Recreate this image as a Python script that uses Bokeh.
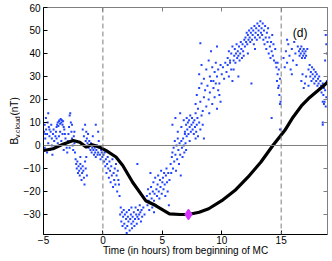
from bokeh.plotting import figure
from bokeh.layouts import row
from bokeh.models import Span, Label, LinearAxis, FixedTicker, Range1d
from bokeh.embed import file_html
from bokeh.resources import INLINE

FONT = "Liberation Sans"

# ---- data ----
x_ticks = [-5, 0, 5, 10, 15]
y_ticks = [-30, -20, -10, 0, 10, 20, 30, 40, 50, 60]
mc_bounds = [0, 15]          # dashed verticals (MC start / end)
zero_level = 0

# measured B_y (blue dots): hours, nT
obs_t = [
    -4.95, -4.9, -4.85, -4.8, -4.78, -4.7, -4.65, -4.6, -4.55, -4.5, -4.45, -4.4, -4.35, -4.3, -4.25, -4.2, -4.15, -4.1, -4.05, -4.0, -4.9, -4.7, -4.6, -4.3, -4.85, -4.5,
    -3.95, -3.9, -3.85, -3.8, -3.75, -3.7, -3.65, -3.6, -3.55, -3.5, -3.45, -3.4, -3.35, -3.3, -3.25, -3.2, -3.15, -3.1, -3.05, -3.9, -3.7, -3.5, -3.3, -3.6, -3.4, -3.0, -3.8,
    -2.95, -2.9, -2.85, -2.8, -2.75, -2.7, -2.65, -2.6, -2.55, -2.5, -2.45, -2.4, -2.35, -2.3, -2.25, -2.2, -2.15, -2.1, -2.05, -2.0, -2.8, -2.6, -2.4, -2.7,
    -1.95, -1.9, -1.85, -1.8, -1.75, -1.7, -1.65, -1.6, -1.55, -1.5, -1.45, -1.4, -1.7, -1.6, -1.5, -1.45, -1.4, -1.35, -1.3, -1.25, -1.2, -1.15, -1.1, -1.05, -1.0, -1.9, -1.35,
    -0.95, -0.9, -0.85, -0.8, -0.75, -0.7, -0.65, -0.6, -0.55, -0.5, -0.45, -0.4, -0.35, -0.3, -0.25, -0.2, -0.15, -0.1, -0.05, -0.6, -0.4,
    0.05, 0.1, 0.15, 0.2, 0.25, 0.3, 0.35, 0.4, 0.45, 0.5, 0.55, 0.6, 0.65, 0.7, 0.75, 0.8, 0.85, 0.9, 0.95, 1.0, 1.05, 1.1, 1.15, 1.2, 1.25, 1.3, 1.35, 1.4,
    1.45, 1.5, 1.55, 1.6, 1.65, 1.7, 1.75, 1.8, 1.85, 1.9, 1.95, 2.0, 2.05, 2.1, 2.15, 2.2, 2.25, 2.3, 2.35, 2.4, 2.45, 2.5, 2.55, 2.6, 2.65, 2.7, 2.75, 2.8, 2.85, 2.9, 2.95, 3.0, 3.05, 3.1, 3.15, 3.2, 3.25, 3.3, 3.4, 3.5, 2.9, 2.0, 2.4,
    3.7, 3.75, 3.8, 3.85, 3.9, 3.95, 4.0, 4.05, 4.1, 4.15, 4.2, 4.25, 4.3, 4.35, 4.4, 4.45, 4.5, 4.55, 4.6, 4.65, 4.7, 4.75, 4.8, 4.85, 4.9, 4.95, 5.0, 5.05, 5.1, 5.15, 5.2, 5.25, 5.3, 5.35, 5.4, 5.45, 5.5, 5.55, 5.6, 4.3, 4.0,
    5.7, 5.75, 5.8, 5.85, 5.9, 5.95, 6.0, 6.05, 6.1, 6.15, 6.2, 6.25, 6.3, 6.35, 6.4, 6.45, 6.5, 6.55, 6.6, 6.65, 6.7, 6.75, 6.8, 6.85, 6.9, 6.95, 7.0, 7.05,
    5.85, 6.1, 6.3, 6.5, 6.6, 6.8, 6.9, 7.0, 7.05, 7.1, 7.15, 7.2, 7.25, 7.3, 7.35, 7.4, 7.45, 7.5, 7.55, 7.6, 7.65, 7.7, 7.75, 7.8, 7.85, 7.9, 7.95, 8.0, 8.1, 8.2, 8.3, 8.4, 8.5, 7.3, 7.8,
    7.8, 7.9, 8.0, 8.1, 8.2, 8.3, 8.4, 8.5, 8.6, 8.7, 8.8, 8.9, 9.0, 9.1, 9.2, 9.3, 9.4, 9.5, 9.6, 9.7, 9.8, 9.9, 8.95,
    8.1, 8.3, 8.5, 8.7, 8.9, 9.0, 9.2, 9.3, 9.4, 9.5, 9.6, 9.7, 9.8, 9.9, 10.0, 10.1, 10.2, 10.3, 10.4, 10.5, 10.6, 10.7, 10.8, 9.1, 9.6, 8.2,
    10.5, 10.6, 10.7, 10.8, 10.9, 11.0, 11.05, 11.1, 11.15, 11.2, 11.25, 11.3, 11.35, 11.4, 11.45, 11.5, 11.55, 11.6, 11.65, 11.7, 11.75, 11.8, 11.85, 11.9, 11.95, 11.0, 11.4, 10.9,
    12.0, 12.05, 12.1, 12.15, 12.2, 12.25, 12.3, 12.35, 12.4, 12.45, 12.5, 12.55, 12.6, 12.65, 12.7, 12.75, 12.8, 12.85, 12.9, 12.95, 13.0, 13.05, 13.1, 13.15, 13.2, 13.25, 13.3, 12.5, 12.2, 12.8,
    13.35, 13.4, 13.45, 13.5, 13.55, 13.6, 13.65, 13.7, 13.75, 13.8, 13.85, 13.9, 13.95, 14.0, 14.05, 14.1, 14.15, 14.2, 14.25, 14.3, 14.35, 14.4, 14.5, 14.55,
    14.6, 14.65, 14.7, 14.75, 14.8, 14.85, 14.9, 14.95, 14.7, 14.8, 14.9, 14.2, 14.9,
    15.2, 15.3, 15.4, 15.5, 15.6, 15.7, 15.8, 15.9, 16.0, 16.1, 16.2, 16.3, 16.4, 15.5, 15.9,
    16.5, 16.55, 16.6, 16.65, 16.7, 16.75, 16.8, 16.85, 16.9, 16.95, 17.0, 17.05, 17.1, 17.2, 16.7, 16.8, 16.9, 17.0, 17.1, 17.3,
    17.3, 17.4, 17.45, 17.5, 17.55, 17.6, 17.65, 17.7, 17.75, 17.8, 17.85, 17.9, 17.95, 18.0, 18.05, 18.1, 18.15, 18.2, 18.25, 18.3, 18.35, 18.4,
    18.5, 18.55, 18.6, 18.65, 18.7, 18.75, 18.8, 18.85, 18.75, 18.8, 18.85, 18.7, 18.6, 18.5, 18.5, 18.5,
]
obs_b = [
    6, 9, 3, 12, 7, 5, 10, 1, 8, 4, -2, 6, 9, 3, -4, 5, 7, 2, -1, 4, -1, -3, 14, 0, 5, 7,
    6, 8, 9, 10, 8.5, 10.5, 11, 9.5, 11.5, 10, 11, 9, 10.5, 8, 7, 5, 3, 1, -1, 3, 4, 2, -2, 6, 5, -3, 1,
    2, 5, 8, 13, 14, 10, 6, 3, 0, -2, 4, 1, -3, -6, -8, -10, -7, -12, -9, -11, -1, 9, 6, 2,
    -13, -8, -10, -15, -12, -9, -11, -14, -17, -7, -10, -5, 7, 4, 9, 2, 6, 3, 1, 5, -1, 2, 0, -2, 1, -5, -13,
    -3, -1, 4, -2, -4, -1, -3, -5, -2, 0, -4, -3, 2, -1, -4, -6, -2, -3, -5, 9, 6,
    -4, -7, -3, -9, -6, -12, -8, -5, -10, -14, -7, -11, -16, -9, -13, -6, -18, -12, -15, -10, -17, -8, -13, -20, -11, -15, -17, -22,
    -30, -27, -33, -29, -35, -31, -28, -34, -30, -36, -32, -29, -35, -31, -33, -28, -37, -32, -30, -34, -36, -31, -33, -29, -35, -32, -27, -30, -34, -31, -28, -32, -30, -26, -29, -33, -28, -31, -27, -30, -8, -38, -27,
    -22, -26, -19, -24, -28, -21, -25, -18, -23, -27, -20, -16, -24, -21, -14, -26, -19, -22, -17, -13, -20, -23, -15, -18, -11, -21, -16, -14, -19, -12, -17, -22, -13, -10, -16, -20, -12, -26, -15, -29, -12,
    -8, -12, -5, -3, -10, -1, -7, 2, -4, -11, 0, -6, 3, -2, -8, 1, -4, -13, 2, -1, -5, 3, 0, -3, 5, 1, -2, 4,
    9, 12, 6, 14, 8, 11, 6, 9, 12, 7, 10, 5, 11, 8, 13, 6, 9, 12, 7, 10, 5, 11, 8, 14, 6, 9, 12, 4, 10, 7, 13, 9, 3, 2, 3,
    18, 22, 16, 25, 19, 27, 15, 21, 24, 17, 26, 20, 23, 28, 18, 25, 21, 27, 16, 24, 22, 19, 14,
    31, 35, 29, 33, 37, 30, 34, 28, 32, 36, 30, 33, 27, 35, 31, 34, 29, 36, 32, 35, 30, 37, 33, 41, 43, 44.5,
    38, 41, 36, 40, 43, 37, 39, 42, 36, 40, 44, 38, 41, 39, 43, 37, 40, 45, 42, 38, 44, 41, 39, 46, 43, 33, 30, 28,
    47, 45, 49, 44, 48, 46, 50, 47, 45, 49, 51, 46, 48, 50, 44, 52, 47, 49, 51, 46, 53, 48, 50, 52, 47, 54, 49, 27, 40, 42,
    51, 48, 53, 46, 50, 44, 52, 47, 42, 49, 45, 51, 40, 47, 43, 38, 45, 41, 48, 39, 44, 37, 42, 36,
    34, 28, 31, 25, 33, 22, 29, 19, 36, 26, 18, 12, 7,
    38, 34, 41, 36, 44, 39, 33, 42, 37, 45, 40, 35, 43, 46, 31,
    41, 39, 42, 40, 43, 38, 41, 39, 42, 40, 38, 41, 39, 42, 28, 31, 25, 27, 30, 26,
    33, 35, 30, 32, 28, 34, 31, 29, 33, 27, 30, 32, 28, 31, 26, 29, 27, 30, 25, 28, 26, 23,
    27, 22, 25, 19, 24, 17, 21, 28, 48, 44, 40, 37, 18, 10, 9, 19,
]

# model B_y (black curve)
model_t = [-5, -4.2, -3.3, -2.5, -1.95, -1.4, -0.97, -0.28, 0.28, 1.1, 1.67, 2.5, 3.6, 4.4,
           5.6, 6.5, 7.2, 8.1, 8.9, 10.0, 11.1, 12.2, 13.3, 14.3, 15.3, 16.0, 16.7, 17.3, 17.8, 18.4, 18.9]
model_b = [-2.2, -1.4, 0.7, 2.2, 1.4, -0.7, 0.4, -0.7, -2.2, -5, -8.7, -16, -24, -26,
           -29.7, -30, -30, -29, -27.5, -24, -19.6, -13.8, -7.2, 0, 6.5, 12.3, 17.2, 20.4, 22.6, 25.2, 27.5]

# minimum of the model
min_t = [7.2]
min_b = [-30]

panel_tag = "(d)"
tag_pos = (16.6, 49)

# y-axis title pieces: text, font size, anchor x (px in strip), anchor y (data)
ylab_parts = [("B", "10px", 14, 0.4), ("y,cloud", "7px", 17, 3.3), (" (nT)", "10px", 14, 13.0)]

yr = Range1d(-38.7, 60)
LAB_W = 20

# ---- narrow strip holding the rotated y-axis title ----
lab = figure(width=LAB_W, height=261, output_backend="svg", toolbar_location=None,
             x_range=Range1d(0, LAB_W), y_range=yr, x_axis_type=None, y_axis_type=None,
             min_border_left=0, min_border_right=0, min_border_top=7, min_border_bottom=27)
lab.outline_line_color = None
lab.background_fill_color = "white"
lab.border_fill_color = "white"
lab.xgrid.visible = False
lab.ygrid.visible = False
for txt, fs, lx, ly in ylab_parts:
    lab.add_layout(Label(x=lx, y=ly, text=txt, angle=90, angle_units="deg",
                         text_font=FONT, text_font_size=fs, text_color="black",
                         text_align="left", text_baseline="alphabetic"))

# ---- main plot ----
p = figure(width=332 - LAB_W, height=261, output_backend="svg", toolbar_location=None,
           x_range=Range1d(-5, 18.9), y_range=yr,
           min_border_left=40 - LAB_W, min_border_right=5, min_border_top=7, min_border_bottom=27)
p.background_fill_color = "white"
p.border_fill_color = "white"
p.outline_line_color = "#7f7f7f"
p.xgrid.visible = False
p.ygrid.visible = False

for ax, ticks in ((p.xaxis[0], x_ticks), (p.yaxis[0], y_ticks)):
    ax.ticker = FixedTicker(ticks=ticks)
    ax.minor_tick_line_color = None
    ax.major_tick_in = 4
    ax.major_tick_out = 0
    ax.axis_line_color = "black"
    ax.major_tick_line_color = "black"
    ax.major_label_text_font = FONT
    ax.major_label_text_font_size = "10px"
    ax.major_label_text_color = "black"

p.xaxis.major_label_standoff = 1
p.yaxis.major_label_standoff = 3
p.xaxis.axis_label = "Time (in hours) from beginning of MC"
p.xaxis.axis_label_text_font = FONT
p.xaxis.axis_label_text_font_size = "10px"
p.xaxis.axis_label_text_font_style = "normal"
p.xaxis.axis_label_text_color = "black"
p.xaxis.axis_label_standoff = -2

# box: top and right axes with inward ticks, no labels
top = LinearAxis(ticker=FixedTicker(ticks=x_ticks))
right = LinearAxis(ticker=FixedTicker(ticks=y_ticks))
for ax in (top, right):
    ax.minor_tick_line_color = None
    ax.major_tick_in = 4
    ax.major_tick_out = 0
    ax.axis_line_color = "#7f7f7f"
    ax.major_tick_line_color = "#7f7f7f"
    ax.major_label_text_font_size = "0px"
    ax.major_label_text_color = None
    ax.major_label_standoff = 0
p.add_layout(top, "above")
p.add_layout(right, "right")

# reference lines
p.add_layout(Span(location=zero_level, dimension="width", line_color="#7f7f7f", line_width=1))
for b in mc_bounds:
    p.add_layout(Span(location=b, dimension="height", line_color="#7f7f7f",
                      line_width=1, line_dash="5 3"))

p.scatter(obs_t, obs_b, marker="square", size=2, color="#2244ff", line_width=0)
p.line(model_t, model_b, line_color="black", line_width=3.2)
p.scatter(min_t, min_b, marker="diamond", size=11, color="#d633ff")

p.add_layout(Label(x=tag_pos[0], y=tag_pos[1], text=panel_tag, text_font=FONT,
                   text_font_size="12px", text_align="center", text_baseline="middle",
                   text_color="black"))

layout = row(lab, p, spacing=0)
open("out.html", "w").write(file_html(layout, INLINE))
